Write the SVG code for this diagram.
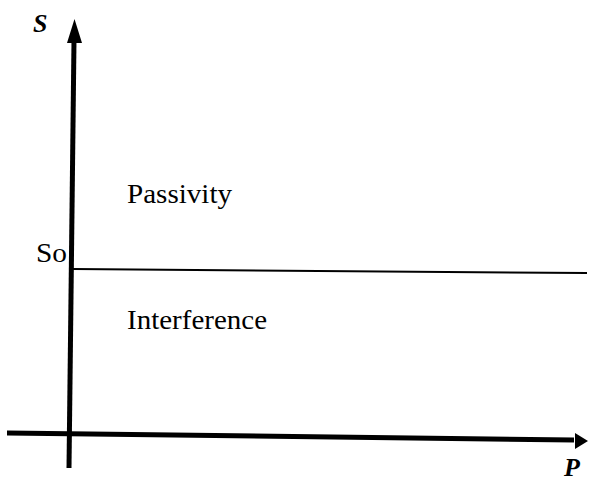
<svg xmlns="http://www.w3.org/2000/svg" width="589" height="481" viewBox="0 0 589 481">
<style>
.t{font-family:"Liberation Serif","Times New Roman",serif;fill:#000}
.ax{stroke:#000;stroke-width:5;fill:none}
.it{font-family:"Liberation Serif",serif;font-style:italic;font-weight:bold;fill:#000}
</style>
<rect width="589" height="481" fill="#fff"/>
<g id="connectors">
<line class="ax" x1="69" y1="468" x2="74" y2="40"/>
<polygon points="74.5,19 82,43 67,43" fill="#000"/>
<line class="ax" x1="7" y1="433" x2="574" y2="440"/>
<polygon points="588,441 575,433 575,449" fill="#000"/>
<line x1="73" y1="269" x2="587" y2="273" stroke="#000" stroke-width="2"/>
</g>
<g id="axis-s"><text class="it" x="33" y="32" font-size="26">S</text></g>
<g id="axis-p"><text class="it" x="564" y="476" font-size="26">P</text></g>
<g id="so"><text class="t" x="36" y="262" font-size="27" textLength="31" lengthAdjust="spacingAndGlyphs">So</text></g>
<g id="passivity"><text class="t" x="127" y="203" font-size="27" textLength="105" lengthAdjust="spacingAndGlyphs">Passivity</text></g>
<g id="interference"><text class="t" x="127" y="329" font-size="27" textLength="140" lengthAdjust="spacingAndGlyphs">Interference</text></g>
</svg>
